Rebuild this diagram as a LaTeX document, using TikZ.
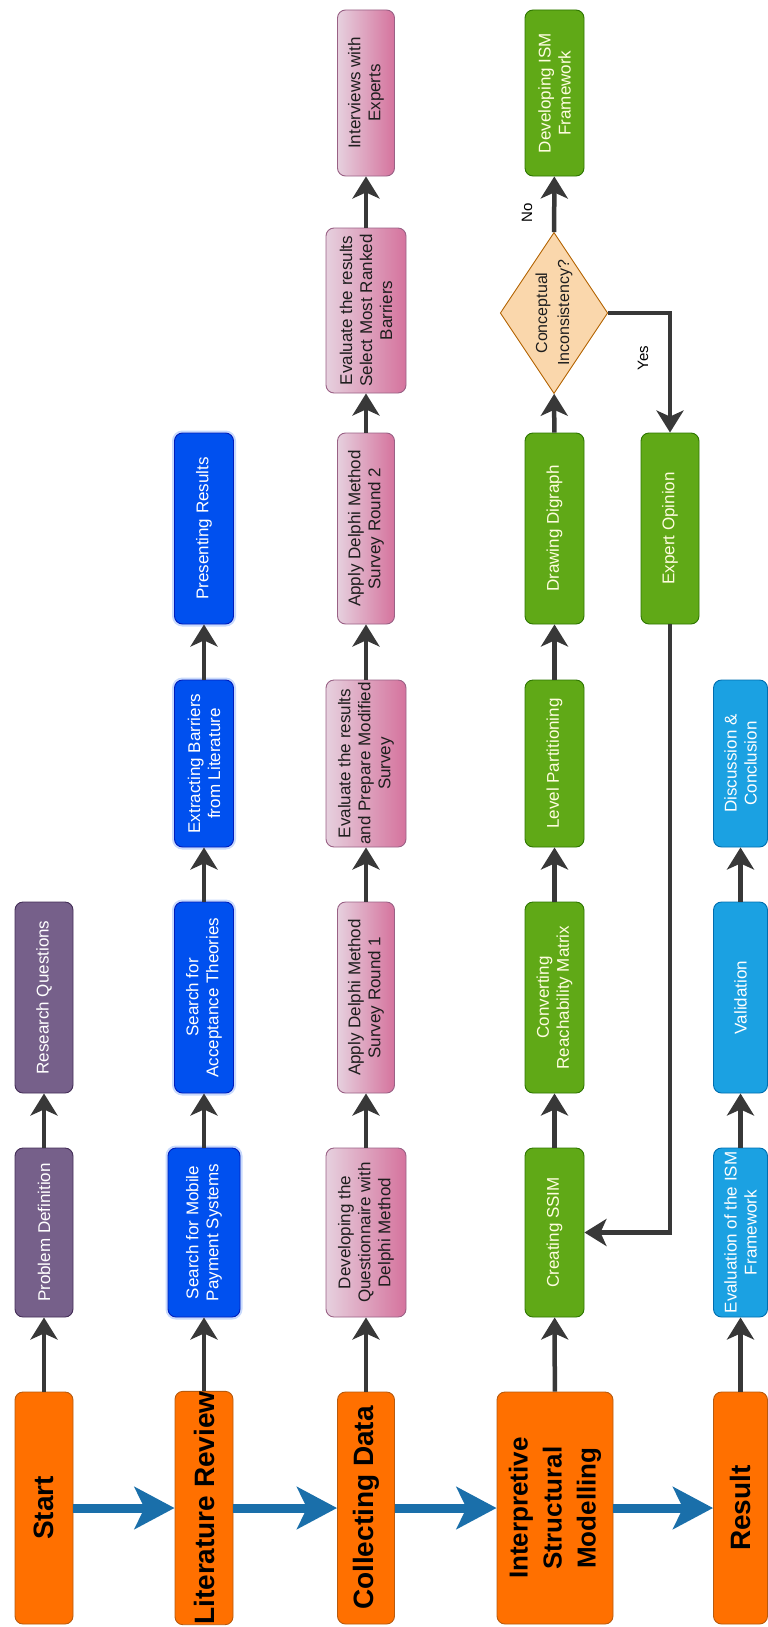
\documentclass[tikz,border=0pt]{standalone}
\usepackage{fontspec}
\setmainfont{Liberation Sans}
\usetikzlibrary{arrows.meta,shapes.geometric}
\definecolor{StageFill}{HTML}{FF7000}
\definecolor{StageLine}{HTML}{B85A0D}
\definecolor{PurpleFill}{HTML}{76608A}
\definecolor{PurpleLine}{HTML}{432D57}
\definecolor{BlueFill}{HTML}{0050EF}
\definecolor{BlueLine}{HTML}{001DBC}
\definecolor{PinkTop}{HTML}{E6D0DE}
\definecolor{PinkBottom}{HTML}{D5739D}
\definecolor{PinkLine}{HTML}{996185}
\definecolor{GreenFill}{HTML}{60A917}
\definecolor{GreenLine}{HTML}{2D7600}
\definecolor{SkyFill}{HTML}{1BA1E2}
\definecolor{SkyLine}{HTML}{006EAF}
\definecolor{DecideFill}{HTML}{FAD7AC}
\definecolor{DecideLine}{HTML}{B46504}
\definecolor{ArrowInk}{HTML}{383838}
\definecolor{StageArrow}{HTML}{1A6FAA}
\definecolor{Ink}{HTML}{1E1E1E}

\tikzset{
  box/.style={rectangle,rounded corners=8pt,rotate=90,align=center,inner sep=1.5pt,
    line width=0.9pt,minimum height=59pt,font=\fontsize{17}{20}\selectfont},
  stage/.style={box,draw=StageLine,fill=StageFill,text=black,inner sep=0pt,
    minimum width=232pt,minimum height=58pt,font=\fontsize{28}{34}\selectfont\bfseries},
  purplebox/.style={box,draw=PurpleLine,fill=PurpleFill,text=white,minimum height=58pt},
  bluebox/.style={box,draw=BlueLine,fill=BlueFill,text=white,
    preaction={draw=BlueFill!70,line width=5pt,draw opacity=0.3}},
  pinkbox/.style={box,draw=PinkLine,left color=PinkTop,right color=PinkBottom,text=Ink,minimum height=57pt},
  greenbox/.style={box,draw=GreenLine,fill=GreenFill,text=white!88!yellow},
  skybox/.style={box,draw=SkyLine,fill=SkyFill,text=white,minimum height=54pt},
  decide/.style={diamond,rotate=90,aspect=1.5,draw=DecideLine,fill=DecideFill,text=Ink,
    inner sep=0pt,minimum width=160pt,minimum height=106pt,align=center,line width=0.9pt,
    font=\fontsize{16}{22}\selectfont},
  tag/.style={rotate=90,text=black,inner sep=1pt,font=\fontsize{15}{18}\selectfont},
  flow/.style={draw=ArrowInk,line width=4.5pt,-{Stealth[length=22pt,width=27pt,inset=6pt]}},
  stagearrow/.style={draw=StageArrow,line width=9pt,-{Stealth[length=40pt,width=42pt,inset=10pt]}}
}

\begin{document}
\begin{tikzpicture}[x=1pt,y=-1pt]
  \useasboundingbox (0,0) rectangle (768,1627);

  % main stages
  \node[stage] (start) at (44,1508) {Start};
  \node[stage] (litrev) at (204,1508) {Literature Review};
  \node[stage,minimum height=57pt] (colldata) at (366,1508) {Collecting Data};
  \node[stage,minimum height=116pt,font=\fontsize{26}{34}\selectfont\bfseries] (ism) at (555,1508) {Interpretive\\Structural\\Modelling};
  \node[stage,minimum height=54pt] (result) at (740.5,1508) {Result};

  % start
  \node[purplebox,minimum width=169pt] (probdef) at (44,1232.5) {Problem Definition};
  \node[purplebox,minimum width=191pt] (resq) at (44,997.5) {Research Questions};

  % literature review
  \node[bluebox,minimum width=169pt,minimum height=72pt] (mobile) at (204,1232.5) {Search for Mobile\\Payment Systems};
  \node[bluebox,minimum width=191pt] (accept) at (204,997.5) {Search for\\Acceptance Theories};
  \node[bluebox,minimum width=167pt] (extract) at (204,763.5) {Extracting Barriers\\from Literature};
  \node[bluebox,minimum width=191pt] (present) at (204,528.5) {Presenting Results};

  % collecting data
  \node[pinkbox,minimum width=169pt,minimum height=80pt] (devq) at (366,1232.5) {Developing the\\Questionnaire with\\Delphi Method};
  \node[pinkbox,minimum width=191pt] (round1) at (366,997.5) {Apply Delphi Method\\Survey Round 1};
  \node[pinkbox,minimum width=167pt,minimum height=80pt] (evalmod) at (366,763.5) {Evaluate the results\\and Prepare Modified\\Survey};
  \node[pinkbox,minimum width=191pt] (round2) at (366,528.5) {Apply Delphi Method\\Survey Round 2};
  \node[pinkbox,minimum width=165pt,minimum height=80pt] (evalsel) at (366,310.5) {Evaluate the results\\Select Most Ranked\\Barriers};
  \node[pinkbox,minimum width=166pt] (interv) at (366,93) {Interviews with\\Experts};

  % ism
  \node[greenbox,minimum width=169pt] (ssim) at (554.5,1232.5) {Creating SSIM};
  \node[greenbox,minimum width=191pt] (reach) at (554.5,997.5) {Converting\\Reachability Matrix};
  \node[greenbox,minimum width=167pt] (level) at (554.5,763.5) {Level Partitioning};
  \node[greenbox,minimum width=191pt] (digraph) at (554.5,528.5) {Drawing Digraph};
  \node[decide] (decision) at (554,313) {Conceptual\\Inconsistency?};
  \node[greenbox,minimum width=166pt] (devism) at (554.5,93) {Developing ISM\\Framework};
  \node[greenbox,minimum width=191pt,minimum height=58pt] (expert) at (670,528.5) {Expert Opinion};
  \node[tag] (nolbl) at (527,213) {No};
  \node[tag] (yeslbl) at (643,358) {Yes};

  % result
  \node[skybox,minimum width=169pt] (evalism) at (740.5,1232.5) {Evaluation of the ISM\\Framework};
  \node[skybox,minimum width=191pt] (valid) at (740.5,997.5) {Validation};
  \node[skybox,minimum width=167pt] (discuss) at (740.5,763.5) {Discussion \&\\Conclusion};

  % connectors
  \foreach \a/\b in {start/probdef,probdef/resq,
      litrev/mobile,mobile/accept,accept/extract,extract/present,
      colldata/devq,devq/round1,round1/evalmod,evalmod/round2,round2/evalsel,evalsel/interv,
      ism/ssim,ssim/reach,reach/level,level/digraph,digraph/decision,decision/devism,
      result/evalism,evalism/valid,valid/discuss}
    {\draw[flow] (\a) -- (\b);}
  \draw[flow] (decision.south) -| (expert.east);
  \draw[flow] (expert.west) |- (ssim.south);
  \foreach \a/\b in {start/litrev,litrev/colldata,colldata/ism,ism/result}
    {\draw[stagearrow] (\a) -- (\b);}
\end{tikzpicture}
\end{document}
